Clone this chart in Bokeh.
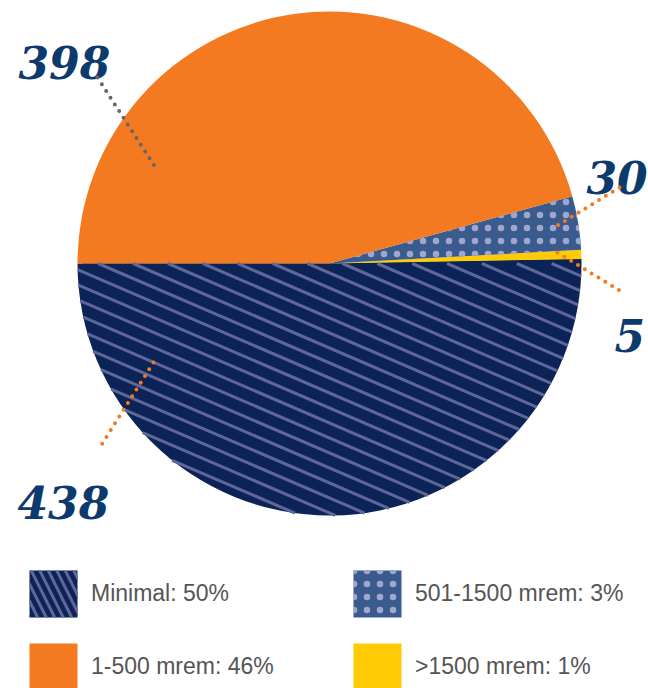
import math
from bokeh.plotting import figure
from bokeh.models import Range1d, Legend, LegendItem
from bokeh.embed import file_html
from bokeh.resources import INLINE
from bokeh.core.properties import value

# ---- data ----
categories = ["Minimal", ">1500 mrem", "501-1500 mrem", "1-500 mrem"]
counts = [438, 5, 30, 398]
percents = ["50%", "1%", "3%", "46%"]

# ---- styles ----
colors = ["#0c2358", "#ffcb05", "#3a5b8d", "#f47a22"]
hatch_pat = [None, None, "dot", None]
hatch_col = [None, None, "#a0a6cc", None]

W, H = 648, 688
p = figure(width=W, height=H, output_backend="svg", toolbar_location=None,
           x_range=Range1d(0, W), y_range=Range1d(0, H), min_border=0)
p.axis.visible = False
p.grid.visible = False
p.outline_line_color = None
p.background_fill_color = "white"

cx, cy, R = 329, 425, 252
total = sum(counts)
angles = []
a = math.pi
for c in counts:
    angles.append((a, a + 2 * math.pi * c / total))
    a += 2 * math.pi * c / total

# swatch renderer for the striped legend entry (hidden beneath the real slice)
minimal_swatch = p.wedge(x=cx, y=cy, radius=R * 0.98, start_angle=angles[0][0],
                         end_angle=angles[0][1], fill_color=colors[0], line_color=None,
                         hatch_pattern="left_diagonal_line", hatch_color="#5f6799",
                         hatch_scale=17, hatch_weight=3)

renderers = []
for (s, e), col, hp, hc in zip(angles, colors, hatch_pat, hatch_col):
    kw = {}
    if hp is not None:
        kw = dict(hatch_pattern=hp, hatch_color=hc, hatch_scale=13, hatch_weight=4)
    r = p.wedge(x=cx, y=cy, radius=R, start_angle=s, end_angle=e,
                fill_color=col, line_color=None, **kw)
    renderers.append(r)

# ---- diagonal stripe texture on the lower half (decoration) ----
m, step, phase = 0.43, 15.0, 368 + 0.43 * 300
sx, sy = [], []
for k in range(-80, 80):
    b = phase + step * k          # line: y = b - m*x
    d = b - cy
    A = 1 + m * m
    B = -2 * cx - 2 * m * d
    C = cx * cx + d * d - R * R
    disc = B * B - 4 * A * C
    if disc <= 0:
        continue
    x1 = (-B - math.sqrt(disc)) / (2 * A)
    x2 = (-B + math.sqrt(disc)) / (2 * A)
    x_lo = max(x1, d / m)
    if x2 - x_lo < 1:
        continue
    sx.append([x_lo, x2])
    sy.append([b - m * x_lo, b - m * x2])
p.multi_line(sx, sy, line_color="#5f6799", line_width=3)

# ---- value labels and leaders ----
label_text = [str(counts[0]), str(counts[3]), str(counts[2]), str(counts[1])]
label_x = [17, 18, 586, 614]
label_y = [186, 626, 511, 353]
p.text(x=label_x, y=label_y, text=label_text, text_font=value("DejaVu Serif"),
       text_font_style="bold italic", text_font_size="44px", text_color="#0d3a6c",
       text_baseline="alphabetic", text_align="left")

leader_xs = [[153, 98], [97, 155], [619, 557], [557, 619]]
leader_ys = [[326, 239], [611, 521], [501, 463], [436, 398]]
leader_cols = ["#f47a22", "#666666", "#f47a22", "#f47a22"]
for xs, ys, col in zip(leader_xs, leader_ys, leader_cols):
    p.line(xs, ys, line_color=col, line_width=4, line_dash="0 8", line_cap="round")

# ---- legend ----
legend_renderers = [minimal_swatch, renderers[1], renderers[2], renderers[3]]
order = [0, 2, 3, 1]
items = [LegendItem(label=f"{categories[i]}: {percents[i]}", renderers=[legend_renderers[i]])
         for i in order]
legend = Legend(items=items, location=(23, -8), orientation="horizontal", ncols=2,
                glyph_width=60, glyph_height=59, label_standoff=8, label_width=242,
                spacing=14, padding=0, margin=0, border_line_color=None,
                background_fill_alpha=0, label_text_font="Liberation Sans",
                label_text_font_size="23px", label_text_color="#555555")
p.add_layout(legend)

open("out.html", "w").write(file_html(p, INLINE))
